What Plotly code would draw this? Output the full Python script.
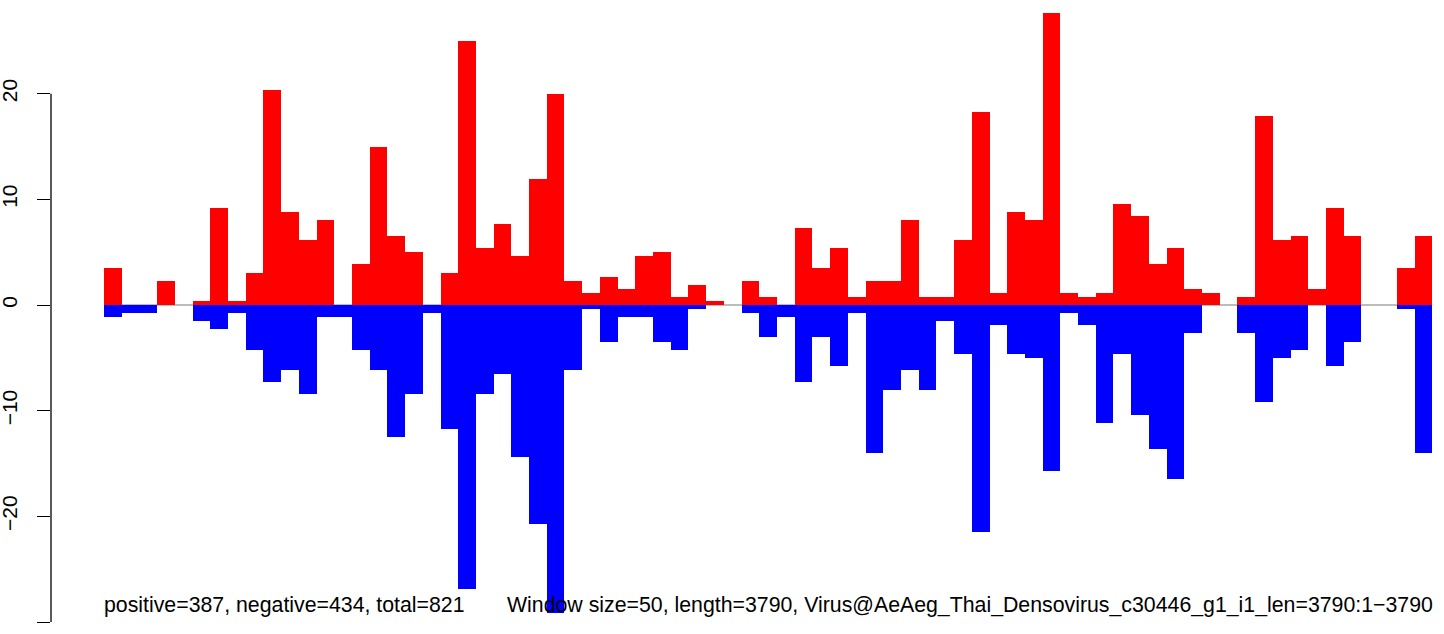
import plotly.graph_objects as go

# Window index (window size 50 over 3790 nt)
windows = list(range(75))

# Positive-strand values per window
positive = [
    3.46, 0, 0, 2.30, 0, 0.38, 9.22, 0.38, 3.07, 20.35,
    8.83, 6.14, 8.06, 0, 3.84, 14.98, 6.53, 4.99, 0, 3.07,
    24.96, 5.38, 7.68, 4.61, 11.90, 19.97, 2.30, 1.15, 2.69, 1.54,
    4.61, 4.99, 0.77, 1.92, 0.38, 0, 2.30, 0.77, 0, 7.30,
    3.46, 5.38, 0.77, 2.30, 2.30, 8.06, 0.77, 0.77, 6.14, 18.24,
    1.15, 8.83, 8.06, 27.65, 1.15, 0.77, 1.15, 9.60, 8.45, 3.84,
    5.38, 1.54, 1.15, 0, 0.77, 17.86, 6.14, 6.53, 1.54, 9.22,
    6.53, 0, 0, 3.46, 6.53,
]

# Negative-strand values per window
negative = [
    -1.15, -0.77, -0.77, 0, 0, -1.54, -2.30, -0.77, -4.22, -7.30,
    -6.14, -8.45, -1.15, -1.15, -4.22, -6.14, -12.48, -8.45, -0.77, -11.71,
    -26.88, -8.45, -6.53, -14.40, -20.74, -29.18, -6.14, -0.38, -3.46, -1.15,
    -1.15, -3.46, -4.22, -0.38, 0, 0, -0.77, -3.07, -1.15, -7.30,
    -3.07, -5.76, -0.77, -14.02, -8.06, -6.14, -8.06, -1.54, -4.61, -21.50,
    -1.92, -4.61, -4.99, -15.74, -0.77, -1.92, -11.14, -4.61, -10.37, -13.63,
    -16.51, -2.69, 0, 0, -2.69, -9.22, -4.99, -4.22, 0, -5.76,
    -3.46, 0, 0, -0.38, -14.02,
]

y_ticks = [-30, -20, -10, 0, 10, 20]

left_note = "positive=387, negative=434, total=821"
right_note = ("Window size=50, length=3790, "
              "Virus@AeAeg_Thai_Densovirus_c30446_g1_i1_len=3790:1\u22123790")

font_family = "Liberation Sans, Arial, sans-serif"

fig = go.Figure()
fig.add_trace(go.Bar(x=windows, y=positive, width=1, marker_color="#FF0000",
                     marker_line_width=0, showlegend=False))
fig.add_trace(go.Bar(x=windows, y=negative, width=1, marker_color="#0000FF",
                     marker_line_width=0, showlegend=False))

# zero reference line under the bars
fig.add_shape(type="line", xref="x", yref="y", x0=-0.5, x1=74.5, y0=0, y1=0,
              line=dict(color="#a6a6a6", width=1.5), layer="below")
# R-style axis line spanning only the tick range
fig.add_shape(type="line", xref="paper", yref="y", x0=0, x1=0,
              y0=min(y_ticks), y1=max(y_ticks),
              line=dict(color="black", width=1.3))

fig.add_annotation(x=-0.5, y=0.045, xref="x", yref="paper", text=left_note,
                   showarrow=False, xanchor="left", yanchor="middle", xshift=-2,
                   font=dict(family=font_family, size=21.3, color="black"))
fig.add_annotation(x=74.5, y=0.045, xref="x", yref="paper", text=right_note,
                   showarrow=False, xanchor="right", yanchor="middle", xshift=3,
                   font=dict(family=font_family, size=21.3, color="black"))

fig.update_layout(
    width=1444, height=634,
    margin=dict(l=51, r=0, t=0, b=0, autoexpand=False),
    plot_bgcolor="white", paper_bgcolor="white",
    barmode="overlay", bargap=0,
    font=dict(family=font_family, size=21, color="black"),
)
fig.update_xaxes(range=[-3.493, 75.163], visible=False, automargin=False)
fig.update_yaxes(range=[-31.13, 28.86], tickvals=y_ticks, tickangle=-90,
                 ticks="outside", ticklen=13, tickwidth=1.3, tickcolor="black",
                 ticklabelstandoff=12, showgrid=False, zeroline=False,
                 showline=False, tickfont=dict(size=21), automargin=False)

# drop the browser's default body margin so the figure sits at the page corner
fig.write_html("out.html", config={"displayModeBar": False},
               post_script="document.body.style.margin='0';")
